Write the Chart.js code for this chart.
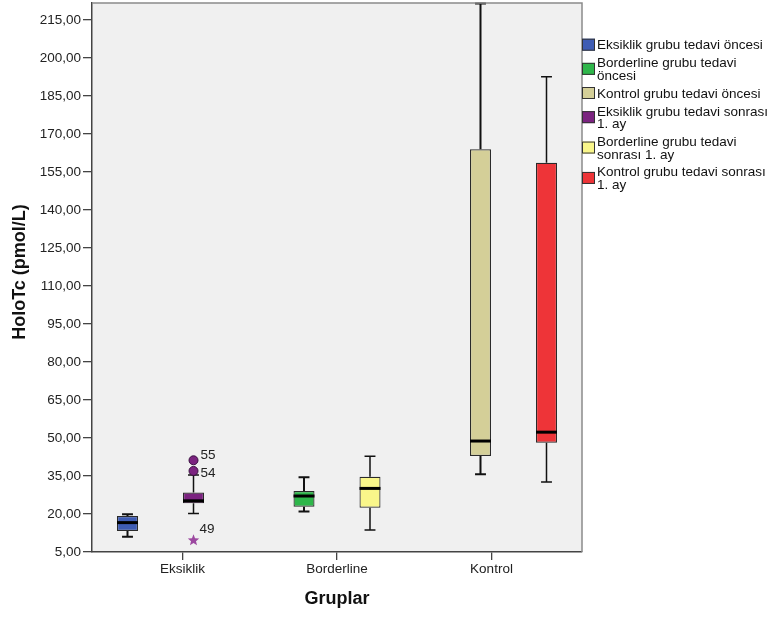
<!DOCTYPE html>
<html>
<head>
<meta charset="utf-8">
<script src="https://cdn.jsdelivr.net/npm/chart.js@4/dist/chart.umd.min.js"></script>
<style>
  html, body { margin: 0; padding: 0; background: #ffffff; }
  canvas { display: block; }
</style>
</head>
<body>
<canvas id="chart" width="770" height="618"></canvas>
<script>
// Groups on the x axis
const categories = ['Eksiklik', 'Borderline', 'Kontrol'];

// Series (legend order); each series belongs to one group
const seriesLabels = [
  ['Eksiklik grubu tedavi öncesi'],
  ['Borderline grubu tedavi', 'öncesi'],
  ['Kontrol grubu tedavi öncesi'],
  ['Eksiklik grubu tedavi sonrası', '1. ay'],
  ['Borderline grubu tedavi', 'sonrası 1. ay'],
  ['Kontrol grubu tedavi sonrası', '1. ay']
];
const seriesGroup = [0, 1, 2, 0, 1, 2];

// Box plot statistics, HoloTc (pmol/L)
const whiskerLow  = [11.0, 21.0, 35.7, 20.2, 13.7, 32.6];
const quartile1   = [13.3, 22.9, 42.9, 24.2, 22.5, 48.1];
const medians     = [16.6, 27.1, 48.8, 25.2, 30.1, 52.3];
const quartile3   = [19.2, 29.1, 164.0, 28.5, 34.7, 158.6];
const whiskerHigh = [19.9, 34.5, 221.5, 35.4, 42.8, 192.6];

// Outlying cases (series index, value, case number, extreme?)
const outlierSeries  = [3, 3, 3];
const outlierValues  = [41.2, 37.0, 9.6];
const outlierCases   = ['55', '54', '49'];
const outlierExtreme = [false, false, true];

// Y axis tick values
const yTickValues = [5, 20, 35, 50, 65, 80, 95, 110, 125, 140, 155, 170, 185, 200, 215];

// ---- presentation ----
const seriesColors = ['#3E5CB4', '#2EB64A', '#D4CF98', '#7B2380', '#F9F68A', '#EE3438'];
const caseLabelShift = [[7, -5], [7, 2], [6, -11]];
const FONT = "'Liberation Sans', Arial, sans-serif";
Chart.defaults.font.family = FONT;

function fmt(v) { return v.toFixed(2).replace('.', ','); }

function drawStar(ctx, cx, cy, outer, inner) {
  ctx.beginPath();
  for (let k = 0; k < 10; k++) {
    const r = k % 2 === 0 ? outer : inner;
    const a = -Math.PI / 2 + k * Math.PI / 5;
    const px = cx + r * Math.cos(a), py = cy + r * Math.sin(a);
    if (k === 0) ctx.moveTo(px, py); else ctx.lineTo(px, py);
  }
  ctx.closePath();
  ctx.fill();
}

const boxExtras = {
  id: 'boxExtras',
  beforeDraw(chart) {
    const { ctx, chartArea: a } = chart;
    ctx.save();
    ctx.fillStyle = '#f0f0f0';
    ctx.fillRect(a.left, a.top, a.right - a.left, a.bottom - a.top);
    ctx.restore();
  },
  beforeDatasetsDraw(chart) {
    const { ctx } = chart;
    const ys = chart.scales.y;
    ctx.save();
    ctx.strokeStyle = '#111';
    seriesLabels.forEach((_, i) => {
      const bar = chart.getDatasetMeta(i).data[0];
      const { x, width } = bar.getProps(['x', 'width'], true);
      const cap = width * 0.26;
      ctx.lineWidth = i < 3 ? 2 : 1.5;
      const yq1 = ys.getPixelForValue(quartile1[i]);
      const yq3 = ys.getPixelForValue(quartile3[i]);
      const ylo = ys.getPixelForValue(whiskerLow[i]);
      const yhi = ys.getPixelForValue(whiskerHigh[i]);
      ctx.beginPath();
      ctx.moveTo(x, yq3); ctx.lineTo(x, yhi);
      ctx.moveTo(x, yq1); ctx.lineTo(x, ylo);
      ctx.moveTo(x - cap, yhi); ctx.lineTo(x + cap, yhi);
      ctx.moveTo(x - cap, ylo); ctx.lineTo(x + cap, ylo);
      ctx.stroke();
    });
    ctx.restore();
  },
  afterDatasetsDraw(chart) {
    const { ctx } = chart;
    const ys = chart.scales.y;
    ctx.save();
    // medians
    ctx.strokeStyle = '#000';
    ctx.lineWidth = 3;
    seriesLabels.forEach((_, i) => {
      const bar = chart.getDatasetMeta(i).data[0];
      const { x, width } = bar.getProps(['x', 'width'], true);
      const ym = ys.getPixelForValue(medians[i]);
      ctx.beginPath();
      ctx.moveTo(x - width / 2, ym); ctx.lineTo(x + width / 2, ym);
      ctx.stroke();
    });
    // outliers and their case numbers
    outlierValues.forEach((v, k) => {
      const s = outlierSeries[k];
      const bar = chart.getDatasetMeta(s).data[0];
      const { x } = bar.getProps(['x'], true);
      const y = ys.getPixelForValue(v);
      if (outlierExtreme[k]) {
        ctx.fillStyle = '#9c48a0';
        drawStar(ctx, x, y, 6, 2.6);
      } else {
        ctx.fillStyle = seriesColors[s];
        ctx.strokeStyle = '#3a1040';
        ctx.lineWidth = 1;
        ctx.beginPath();
        ctx.arc(x, y, 4.5, 0, Math.PI * 2);
        ctx.fill();
        ctx.stroke();
      }
      ctx.fillStyle = '#222';
      ctx.font = '13.5px ' + FONT;
      ctx.textAlign = 'left';
      ctx.textBaseline = 'middle';
      ctx.fillText(outlierCases[k], x + caseLabelShift[k][0], y + caseLabelShift[k][1]);
    });
    ctx.restore();
  },
  afterDraw(chart) {
    const { ctx, chartArea: a } = chart;
    ctx.save();
    // plot frame (top and right edges)
    ctx.strokeStyle = '#8a8a8a';
    ctx.lineWidth = 1.5;
    ctx.beginPath();
    ctx.moveTo(a.left, a.top); ctx.lineTo(a.right, a.top); ctx.lineTo(a.right, a.bottom);
    ctx.stroke();

    // legend
    const lineH = 12.5, gap = 17.9;
    let y = 45.7;
    ctx.font = '13.5px ' + FONT;
    ctx.textAlign = 'left';
    ctx.textBaseline = 'middle';
    seriesLabels.forEach((lines, i) => {
      const mid = y + (lines.length - 1) * lineH / 2 - 1;
      ctx.fillStyle = seriesColors[i];
      ctx.fillRect(582, mid - 6, 13, 12);
      ctx.strokeStyle = '#333';
      ctx.lineWidth = 1;
      ctx.strokeRect(582.5, mid - 5.5, 12, 11);
      ctx.fillStyle = '#111';
      lines.forEach((t, j) => ctx.fillText(t, 597, y + j * lineH));
      y += (lines.length - 1) * lineH + gap;
    });

    // y axis title
    ctx.translate(20, 272);
    ctx.rotate(-Math.PI / 2);
    ctx.font = 'bold 18px ' + FONT;
    ctx.textAlign = 'center';
    ctx.fillStyle = '#111';
    ctx.fillText('HoloTc (pmol/L)', 0, 0);
    ctx.restore();
  }
};

new Chart(document.getElementById('chart'), {
  type: 'bar',
  data: {
    datasets: seriesLabels.map((lines, i) => ({
      label: lines.join(' '),
      data: [{ x: seriesGroup[i], y: [quartile1[i], quartile3[i]] }],
      backgroundColor: seriesColors[i],
      borderColor: '#2a2a2a',
      borderWidth: 1.2,
      borderSkipped: false,
      categoryPercentage: 0.8544,
      barPercentage: 0.9545
    }))
  },
  options: {
    responsive: false,
    devicePixelRatio: 1,
    animation: false,
    events: [],
    layout: { padding: { top: 3, right: 188, bottom: 0, left: 0 } },
    plugins: { legend: { display: false }, tooltip: { enabled: false } },
    scales: {
      x: {
        type: 'linear',
        offset: false,
        min: -0.5858,
        max: 2.5858,
        afterBuildTicks(scale) { scale.ticks = categories.map((_, i) => ({ value: i })); },
        afterFit(scale) { scale.height = 66; scale.paddingLeft = 0; scale.paddingRight = 0; },
        ticks: {
          callback: (v) => categories[Math.round(v)],
          font: { size: 13.5 },
          color: '#222',
          padding: 1,
          maxRotation: 0,
          autoSkip: false
        },
        grid: { offset: false, drawOnChartArea: false, drawTicks: true, tickLength: 8, color: '#444', lineWidth: 1.3 },
        border: { display: true, color: '#444', width: 1.5 },
        title: {
          display: true,
          text: 'Gruplar',
          font: { size: 18, weight: 'bold' },
          color: '#111',
          padding: { top: 0, bottom: 8 }
        }
      },
      y: {
        min: 5,
        max: 221.7,
        afterBuildTicks(scale) { scale.ticks = yTickValues.map(v => ({ value: v })); },
        afterFit(scale) { scale.width = 92; scale.paddingTop = 0; scale.paddingBottom = 0; },
        ticks: {
          callback: (v) => fmt(v),
          font: { size: 13.5 },
          color: '#222',
          padding: 2,
          autoSkip: false
        },
        grid: { drawOnChartArea: false, drawTicks: true, tickLength: 9, color: '#444', lineWidth: 1.3 },
        border: { display: true, color: '#444', width: 1.5 }
      }
    }
  },
  plugins: [boxExtras]
});
</script>
</body>
</html>
